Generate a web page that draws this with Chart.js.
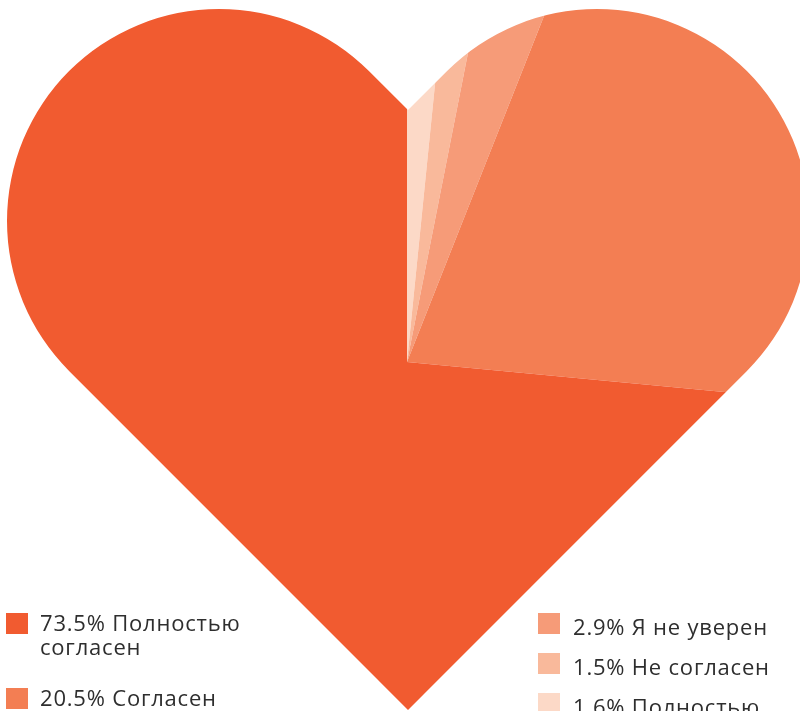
<!DOCTYPE html>
<html>
<head>
<meta charset="utf-8">
<script src="https://cdn.jsdelivr.net/npm/chart.js@4"></script>
<style>
  html, body { margin: 0; padding: 0; width: 800px; height: 711px; overflow: hidden; background: #fff; }
  #wrap { position: absolute; left: -93px; top: -138px; width: 1000px; height: 1000px; }
  .leg { position: absolute; font-family: "Open Sans", sans-serif; font-size: 22px; line-height: 24px; letter-spacing: 0.8px; color: #2e2e2e; }
  .sw { position: absolute; width: 22px; height: 21px; }
</style>
</head>
<body>
<div id="wrap"><canvas id="c" width="1000" height="1000" style="width:1000px;height:1000px"></canvas></div>
<div id="legend"></div>
<script>
// Data (legend order)
const categories = ["Полностью согласен", "Согласен", "Я не уверен", "Не согласен", "Полностью не согласен"];
const values = [73.5, 20.5, 2.9, 1.5, 1.6];
const colors = ["#F15B30", "#F37E53", "#F69B78", "#F9B99B", "#FCD9C7"];

// Chart draws slices clockwise from the top in reverse legend order
const drawOrder = [4, 3, 2, 1, 0];

const OX = 93, OY = 138; // page -> canvas offset

const heartClip = {
  id: 'heartClip',
  beforeDatasetsDraw(chart) {
    const ctx = chart.ctx;
    const r = 212, d = r * Math.SQRT1_2;
    const lc = [219 + OX, 221 + OY], rc = [597 + OX, 221 + OY];
    ctx.save();
    ctx.beginPath();
    ctx.moveTo(408 + OX, 710 + OY);
    ctx.lineTo(lc[0] - d, lc[1] + d);
    ctx.arc(lc[0], lc[1], r, Math.PI * 0.75, Math.PI * 1.75, false);
    ctx.lineTo(408 + OX, 110 + OY);
    ctx.lineTo(rc[0] - d, rc[1] - d);
    ctx.arc(rc[0], rc[1], r, Math.PI * 1.25, Math.PI * 2.25, false);
    ctx.closePath();
    ctx.clip();
  },
  afterDatasetsDraw(chart) {
    chart.ctx.restore();
  }
};

new Chart(document.getElementById('c'), {
  type: 'pie',
  data: {
    labels: drawOrder.map(i => categories[i]),
    datasets: [{
      data: drawOrder.map(i => values[i]),
      backgroundColor: drawOrder.map(i => colors[i]),
      borderWidth: 0
    }]
  },
  options: {
    responsive: false,
    animation: false,
    devicePixelRatio: 1,
    rotation: 0,
    layout: { padding: 0 },
    plugins: { legend: { display: false }, tooltip: { enabled: false } }
  },
  plugins: [heartClip]
});

// HTML legend
const legendPos = [
  { sx: 6, sy: 613, tx: 40, ty: 610, w: 240 },
  { sx: 6, sy: 688, tx: 40, ty: 685, w: 240 },
  { sx: 538, sy: 613, tx: 573, ty: 614, w: 215 },
  { sx: 538, sy: 653, tx: 573, ty: 654, w: 215 },
  { sx: 538, sy: 693, tx: 573, ty: 694, w: 215 }
];
const lg = document.getElementById('legend');
categories.forEach((c, i) => {
  const p = legendPos[i];
  const s = document.createElement('div');
  s.className = 'sw';
  s.style.left = p.sx + 'px'; s.style.top = p.sy + 'px';
  s.style.background = colors[i];
  lg.appendChild(s);
  const t = document.createElement('div');
  t.className = 'leg';
  t.style.left = p.tx + 'px'; t.style.top = p.ty + 'px'; t.style.width = p.w + 'px';
  t.textContent = values[i].toFixed(1) + '% ' + c;
  lg.appendChild(t);
});
</script>
</body>
</html>
